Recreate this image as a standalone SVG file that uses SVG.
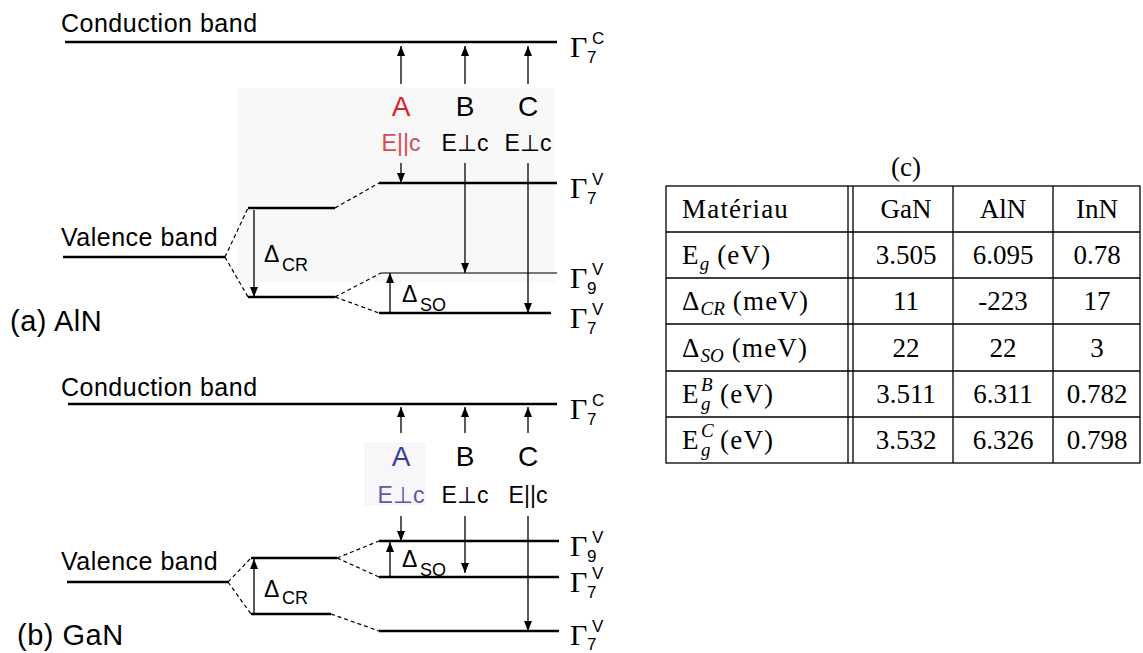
<svg xmlns="http://www.w3.org/2000/svg" width="1143" height="653" viewBox="0 0 1143 653">
<defs>
<marker id="ah" markerWidth="10" markerHeight="8" refX="10" refY="4" orient="auto" markerUnits="userSpaceOnUse"><path d="M0,0 L10,4 L0,8 z" fill="#000"/></marker>
</defs>
<style>
.lvl{stroke:#000;stroke-width:2.5;fill:none}
.gray{stroke:#777;stroke-width:2.2;fill:none}
.arr{stroke:#000;stroke-width:1.3;fill:none;marker-end:url(#ah)}
.dash{stroke:#000;stroke-width:1.2;stroke-dasharray:4 3;fill:none}
.s{font-family:"Liberation Sans",Arial,sans-serif;fill:#000}
.big{font-size:25px;letter-spacing:0.5px}
.pan{font-size:29px;letter-spacing:0.5px}
.abc{font-size:28px;text-anchor:middle}
.pol{font-size:23px;text-anchor:middle}
.dl{font-size:23px}
.ds{font-size:18px}
.gam{font-family:"Liberation Serif","Times New Roman",serif;font-size:30px;fill:#000}
.gs{font-family:"Liberation Sans",Arial,sans-serif;font-size:17px;fill:#000}
.red{fill:#d8262c}
.red2{fill:#d94a4e}
.blue{fill:#3b3f9c}
.blue2{fill:#5a5aa8}
.tab{font-family:"Liberation Serif","Times New Roman",serif;font-size:27px;fill:#000}
.rl{letter-spacing:1.2px}
.c{text-anchor:middle}
.sub{font-style:italic;font-size:19px;letter-spacing:0}
.tl{stroke:#000;stroke-width:1.3;fill:none}
</style>

<rect x="237" y="88" width="318" height="194" fill="#f8f8f8"/>
<rect x="364" y="442" width="62" height="64" fill="#f7f7f9"/>

<g id="panel-a">
  <text class="s big" x="61" y="32">Conduction band</text>
  <text class="s big" x="61" y="246">Valence band</text>
  <text class="s pan" x="10" y="331">(a) AlN</text>
  <line class="lvl" x1="65" y1="42" x2="557" y2="42"/>
  <line class="lvl" x1="379" y1="183" x2="557" y2="183"/>
  <line class="gray" x1="381" y1="273" x2="557" y2="273"/>
  <line class="lvl" x1="379" y1="313" x2="551" y2="313"/>
  <line class="lvl" x1="248" y1="208" x2="335" y2="208"/>
  <line class="lvl" x1="248" y1="297" x2="335" y2="297"/>
  <line class="lvl" x1="63" y1="257" x2="225" y2="257"/>
  <text class="s abc red" x="401" y="116">A</text>
  <text class="s abc" x="465" y="116">B</text>
  <text class="s abc" x="528" y="116">C</text>
  <text class="s pol red2" x="401" y="151">E||c</text>
  <text class="s pol" x="465" y="151">E⊥c</text>
  <text class="s pol" x="528" y="151">E⊥c</text>
  <text class="s dl" x="264" y="262">Δ</text><text class="s ds" x="282" y="271">CR</text>
  <text class="s dl" x="402" y="302">Δ</text><text class="s ds" x="420" y="311">SO</text>
  <text class="gam" x="570" y="57">Γ</text><text class="gs" x="587" y="63">7</text><text class="gs" x="592" y="44">C</text>
  <text class="gam" x="570" y="198">Γ</text><text class="gs" x="587" y="204">7</text><text class="gs" x="592" y="185">V</text>
  <text class="gam" x="570" y="288">Γ</text><text class="gs" x="587" y="294">9</text><text class="gs" x="592" y="275">V</text>
  <text class="gam" x="570" y="328">Γ</text><text class="gs" x="587" y="334">7</text><text class="gs" x="592" y="315">V</text>
</g>

<g id="panel-b">
  <text class="s big" x="61" y="396">Conduction band</text>
  <text class="s big" x="61" y="570">Valence band</text>
  <text class="s pan" x="17" y="645">(b) GaN</text>
  <line class="lvl" x1="68" y1="404" x2="557" y2="404"/>
  <line class="lvl" x1="379" y1="541" x2="559" y2="541"/>
  <line class="lvl" x1="379" y1="577" x2="559" y2="577"/>
  <line class="lvl" x1="379" y1="631" x2="559" y2="631"/>
  <line class="lvl" x1="251" y1="558" x2="337" y2="558"/>
  <line class="lvl" x1="251" y1="614" x2="331" y2="614"/>
  <line class="lvl" x1="67" y1="582" x2="228" y2="582"/>
  <text class="s abc blue" x="401" y="466">A</text>
  <text class="s abc" x="465" y="466">B</text>
  <text class="s abc" x="528" y="466">C</text>
  <text class="s pol blue2" x="401" y="503">E⊥c</text>
  <text class="s pol" x="465" y="503">E⊥c</text>
  <text class="s pol" x="528" y="503">E||c</text>
  <text class="s dl" x="264" y="597">Δ</text><text class="s ds" x="282" y="604">CR</text>
  <text class="s dl" x="402" y="567">Δ</text><text class="s ds" x="420" y="576">SO</text>
  <text class="gam" x="570" y="419">Γ</text><text class="gs" x="587" y="425">7</text><text class="gs" x="592" y="406">C</text>
  <text class="gam" x="570" y="556">Γ</text><text class="gs" x="587" y="562">9</text><text class="gs" x="592" y="543">V</text>
  <text class="gam" x="570" y="592">Γ</text><text class="gs" x="587" y="598">7</text><text class="gs" x="592" y="579">V</text>
  <text class="gam" x="570" y="645">Γ</text><text class="gs" x="587" y="650">7</text><text class="gs" x="592" y="632">V</text>
</g>

<g id="connectors">
  <line class="arr" x1="401" y1="84" x2="401" y2="46"/>
  <line class="arr" x1="465" y1="84" x2="465" y2="46"/>
  <line class="arr" x1="528" y1="84" x2="528" y2="46"/>
  <line class="arr" x1="401" y1="163" x2="401" y2="183"/>
  <line class="arr" x1="465" y1="163" x2="465" y2="273"/>
  <line class="arr" x1="528" y1="163" x2="528" y2="313"/>
  <line class="arr" x1="254" y1="210" x2="254" y2="297"/>
  <line class="arr" x1="390" y1="313" x2="390" y2="273"/>
  <path class="dash" d="M225,257 L248,208 M225,257 L248,297 M335,208 L379,183 M335,297 L381,273 M335,297 L379,313"/>

  <line class="arr" x1="401" y1="433" x2="401" y2="407"/>
  <line class="arr" x1="465" y1="433" x2="465" y2="407"/>
  <line class="arr" x1="528" y1="433" x2="528" y2="407"/>
  <line class="arr" x1="401" y1="516" x2="401" y2="541"/>
  <line class="arr" x1="465" y1="516" x2="465" y2="573"/>
  <line class="arr" x1="528" y1="516" x2="528" y2="631"/>
  <line class="arr" x1="254" y1="614" x2="254" y2="559"/>
  <line class="arr" x1="390" y1="577" x2="390" y2="542"/>
  <path class="dash" d="M228,582 L251,558 M228,582 L251,614 M337,558 L379,541 M337,558 L379,577 M331,614 L379,631"/>
</g>

<g id="table-c">
  <text class="tab c" x="906" y="176" font-size="24">(c)</text>
  <rect class="tl" x="666" y="186" width="474" height="277"/>
  <path class="tl" d="M666,232 H1140 M666,278 H1140 M666,324 H1140 M666,371 H1140 M666,417 H1140 M848,186 V463 M853,186 V463 M953,186 V463 M1053,186 V463"/>
  <text class="tab rl" x="682" y="218">Matériau</text>
  <text class="tab rl" x="682" y="264">E<tspan class="sub" dy="6">g</tspan><tspan dy="-6"> (eV)</tspan></text>
  <text class="tab rl" x="682" y="310">Δ<tspan class="sub" dy="5">CR</tspan><tspan dy="-5"> (meV)</tspan></text>
  <text class="tab rl" x="682" y="357">Δ<tspan class="sub" dy="5">SO</tspan><tspan dy="-5"> (meV)</tspan></text>
  <text class="tab" x="682" y="403">E</text><text class="tab sub" x="701" y="410">g</text><text class="tab sub" x="701" y="391">B</text><text class="tab rl" x="720" y="403">(eV)</text>
  <text class="tab" x="682" y="449">E</text><text class="tab sub" x="701" y="456">g</text><text class="tab sub" x="701" y="437">C</text><text class="tab rl" x="720" y="449">(eV)</text>

  <text class="tab c" x="906" y="218">GaN</text>
  <text class="tab c" x="1003" y="218">AlN</text>
  <text class="tab c" x="1097" y="218">InN</text>
  <text class="tab c" x="906" y="264">3.505</text>
  <text class="tab c" x="1003" y="264">6.095</text>
  <text class="tab c" x="1097" y="264">0.78</text>
  <text class="tab c" x="906" y="310">11</text>
  <text class="tab c" x="1003" y="310">-223</text>
  <text class="tab c" x="1097" y="310">17</text>
  <text class="tab c" x="906" y="357">22</text>
  <text class="tab c" x="1003" y="357">22</text>
  <text class="tab c" x="1097" y="357">3</text>
  <text class="tab c" x="906" y="403">3.511</text>
  <text class="tab c" x="1003" y="403">6.311</text>
  <text class="tab c" x="1097" y="403">0.782</text>
  <text class="tab c" x="906" y="449">3.532</text>
  <text class="tab c" x="1003" y="449">6.326</text>
  <text class="tab c" x="1097" y="449">0.798</text>
</g>
</svg>
